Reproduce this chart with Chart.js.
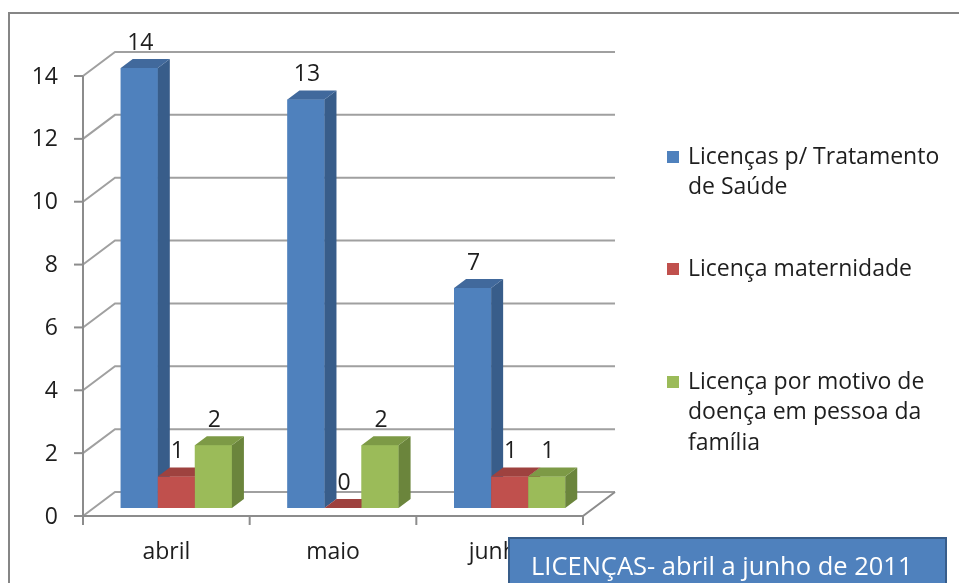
<!DOCTYPE html>
<html>
<head>
<meta charset="utf-8">
<script src="https://cdn.jsdelivr.net/npm/chart.js@4.4.0/dist/chart.umd.min.js"></script>
<style>
  html, body { margin: 0; padding: 0; background: #fff; }
</style>
</head>
<body>
<canvas id="myCanvas" width="959" height="583"></canvas>
<script>
const meses = ["abril", "maio", "junho"];
const tratamentoSaude = [14, 13, 7];
const maternidade = [1, 0, 1];
const doencaFamilia = [2, 2, 1];
const yTicks = [0, 2, 4, 6, 8, 10, 12, 14];
const legendas = [
  ["Licenças p/ Tratamento", "de Saúde"],
  ["Licença maternidade"],
  ["Licença por motivo de", "doença em pessoa da", "família"]
];
const titulo = "LICENÇAS- abril a junho de 2011";

const FONTE = "'Open Sans', sans-serif";
const TEXTO = "#1E1E1E";
const PAREDE = { dx: 32, dy: 24 }; // deslocamento da parede do fundo
const PLANO = { dx: 10, dy: 8 };   // plano onde ficam as barras
const LADO = { dx: 12, dy: 9 };    // profundidade das barras

// cores: frente, lado, topo
const cores = [
  ["#4F81BD", "#385D8A", "#41699C"],
  ["#C0504D", "#8C3A38", "#9E423F"],
  ["#9BBB59", "#6B853C", "#7D9A46"]
];

const efeito3d = {
  id: "efeito3d",
  beforeDatasetsDraw(chart) {
    const { ctx, chartArea: a, scales: { x, y } } = chart;
    ctx.save();
    ctx.lineWidth = 2;
    ctx.strokeStyle = "#A0A0A0";
    yTicks.forEach((v) => {
      const py = y.getPixelForValue(v);
      ctx.beginPath();
      ctx.moveTo(a.left, py);
      ctx.lineTo(a.left + PAREDE.dx, py - PAREDE.dy);
      ctx.lineTo(a.right + PAREDE.dx, py - PAREDE.dy);
      ctx.stroke();
    });
    // chão
    ctx.strokeStyle = "#8C8C8C";
    ctx.beginPath();
    ctx.moveTo(a.left, a.bottom);
    ctx.lineTo(a.right, a.bottom);
    ctx.lineTo(a.right + PAREDE.dx, a.bottom - PAREDE.dy);
    ctx.stroke();
    // eixo vertical
    ctx.beginPath();
    ctx.moveTo(a.left, a.top);
    ctx.lineTo(a.left, a.bottom);
    ctx.stroke();

    ctx.font = "23px " + FONTE;
    ctx.fillStyle = TEXTO;
    ctx.textAlign = "right";
    ctx.textBaseline = "middle";
    yTicks.forEach((v) => {
      const py = y.getPixelForValue(v);
      ctx.beginPath();
      ctx.moveTo(a.left - 9, py);
      ctx.lineTo(a.left, py);
      ctx.stroke();
      ctx.fillText(String(v), a.left - 25, py + 1);
    });
    const passo = (a.right - a.left) / meses.length;
    for (let i = 0; i <= meses.length; i++) {
      const px = a.left + i * passo;
      ctx.beginPath();
      ctx.moveTo(px, a.bottom);
      ctx.lineTo(px, a.bottom + 9);
      ctx.stroke();
    }
    ctx.textAlign = "center";
    meses.forEach((m, i) => {
      ctx.fillText(m, x.getPixelForValue(i), a.bottom + 36);
    });
    ctx.restore();

    ctx.save();
    ctx.translate(PLANO.dx, -PLANO.dy);
  },
  afterDatasetsDraw(chart) {
    const ctx = chart.ctx;
    chart.data.datasets.forEach((ds, i) => {
      const [frente, lado, topo] = cores[i];
      chart.getDatasetMeta(i).data.forEach((bar) => {
        const { x, y, base, width } = bar.getProps(["x", "y", "base", "width"], true);
        const l = x - width / 2, r = x + width / 2;
        ctx.fillStyle = frente;
        ctx.fillRect(l, y, width, base - y);
        ctx.fillStyle = lado;
        ctx.beginPath();
        ctx.moveTo(r, y);
        ctx.lineTo(r + LADO.dx, y - LADO.dy);
        ctx.lineTo(r + LADO.dx, base - LADO.dy);
        ctx.lineTo(r, base);
        ctx.closePath();
        ctx.fill();
        ctx.fillStyle = topo;
        ctx.beginPath();
        ctx.moveTo(l, y);
        ctx.lineTo(l + LADO.dx, y - LADO.dy);
        ctx.lineTo(r + LADO.dx, y - LADO.dy);
        ctx.lineTo(r, y);
        ctx.closePath();
        ctx.fill();
      });
    });
    ctx.font = "23px " + FONTE;
    ctx.fillStyle = TEXTO;
    ctx.textAlign = "center";
    ctx.textBaseline = "middle";
    chart.data.datasets.forEach((ds, i) => {
      chart.getDatasetMeta(i).data.forEach((bar, j) => {
        ctx.fillText(String(ds.data[j]), bar.x + 1, bar.y - 25);
      });
    });
    ctx.restore();
  },
  afterDraw(chart) {
    const ctx = chart.ctx;
    ctx.save();
    // moldura
    ctx.strokeStyle = "#868686";
    ctx.lineWidth = 2;
    ctx.beginPath();
    ctx.moveTo(9, 583);
    ctx.lineTo(9, 13);
    ctx.lineTo(959, 13);
    ctx.stroke();

    // legenda
    const linhaY = [157, 269, 382];
    ctx.font = "23px " + FONTE;
    ctx.textAlign = "left";
    ctx.textBaseline = "middle";
    legendas.forEach((linhas, i) => {
      ctx.fillStyle = cores[i][0];
      ctx.fillRect(667, linhaY[i] - 6, 12, 12);
      ctx.fillStyle = TEXTO;
      linhas.forEach((t, k) => ctx.fillText(t, 688, linhaY[i] + k * 30.5));
    });

    // caixa do título
    ctx.fillStyle = "#4F81BD";
    ctx.fillRect(509, 538, 437, 60);
    ctx.strokeStyle = "#385D8A";
    ctx.lineWidth = 2;
    ctx.strokeRect(509, 538, 437, 60);
    ctx.fillStyle = "#FFFFFF";
    ctx.font = "25.5px " + FONTE;
    ctx.fillText(titulo, 531, 568);
    ctx.restore();
  }
};

new Chart(document.getElementById("myCanvas").getContext("2d"), {
  type: "bar",
  data: {
    labels: meses,
    datasets: [
      { label: legendas[0].join(" "), data: tratamentoSaude, backgroundColor: cores[0][0] },
      { label: legendas[1].join(" "), data: maternidade, backgroundColor: cores[1][0] },
      { label: legendas[2].join(" "), data: doencaFamilia, backgroundColor: cores[2][0] }
    ]
  },
  options: {
    responsive: false,
    animation: false,
    layout: { padding: { left: 83, right: 376, top: 76, bottom: 67 } },
    datasets: { bar: { categoryPercentage: 0.667, barPercentage: 1 } },
    plugins: { legend: { display: false }, tooltip: { enabled: false } },
    scales: {
      x: { display: false },
      y: { display: false, min: 0, max: 14, ticks: { stepSize: 2 } }
    }
  },
  plugins: [efeito3d]
});
</script>
</body>
</html>
